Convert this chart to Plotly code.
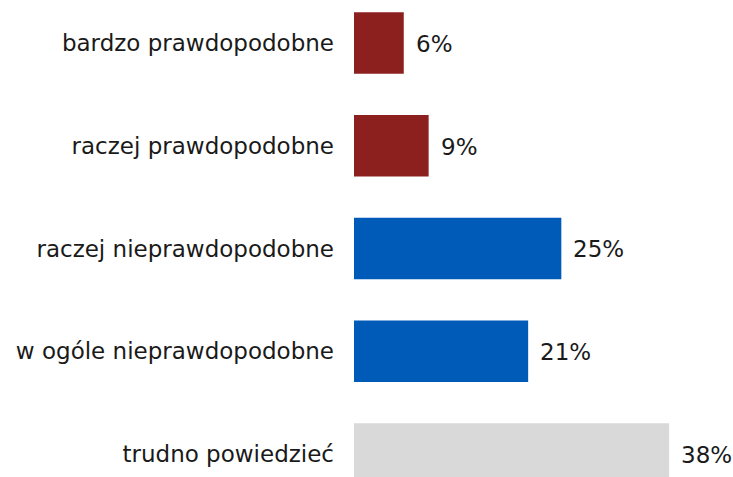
import plotly.graph_objects as go

categories = [
    "bardzo prawdopodobne",
    "raczej prawdopodobne",
    "raczej nieprawdopodobne",
    "w ogóle nieprawdopodobne",
    "trudno powiedzieć",
]
values = [6, 9, 25, 21, 38]
colors = ["#8B201E", "#8B201E", "#005AB8", "#005AB8", "#D9D9D9"]

FONT = "DejaVu Sans"
SIZE = 23

fig = go.Figure(
    go.Bar(
        x=values,
        y=categories,
        orientation="h",
        marker=dict(color=colors, line=dict(width=0)),
        width=0.6,
        hoverinfo="skip",
    )
)

for cat, val in zip(categories, values):
    fig.add_annotation(
        x=val, y=cat, text=f"{val}%", showarrow=False,
        xanchor="left", xshift=10, yshift=-1,
        font=dict(family=FONT, size=SIZE, color="#1a1a1a"),
    )

fig.update_layout(
    width=733, height=477,
    margin=dict(l=354, r=0, t=0, b=0),
    paper_bgcolor="white", plot_bgcolor="white",
    showlegend=False,
    xaxis=dict(range=[0, 45.7], visible=False),
    yaxis=dict(
        categoryorder="array", categoryarray=categories,
        range=[4.224, -0.418],
        showgrid=False, zeroline=False, showline=False, ticks="",
        ticklabelstandoff=19,
        tickfont=dict(family=FONT, size=SIZE, color="#1a1a1a"),
    ),
)

fig.write_html("out.html")
